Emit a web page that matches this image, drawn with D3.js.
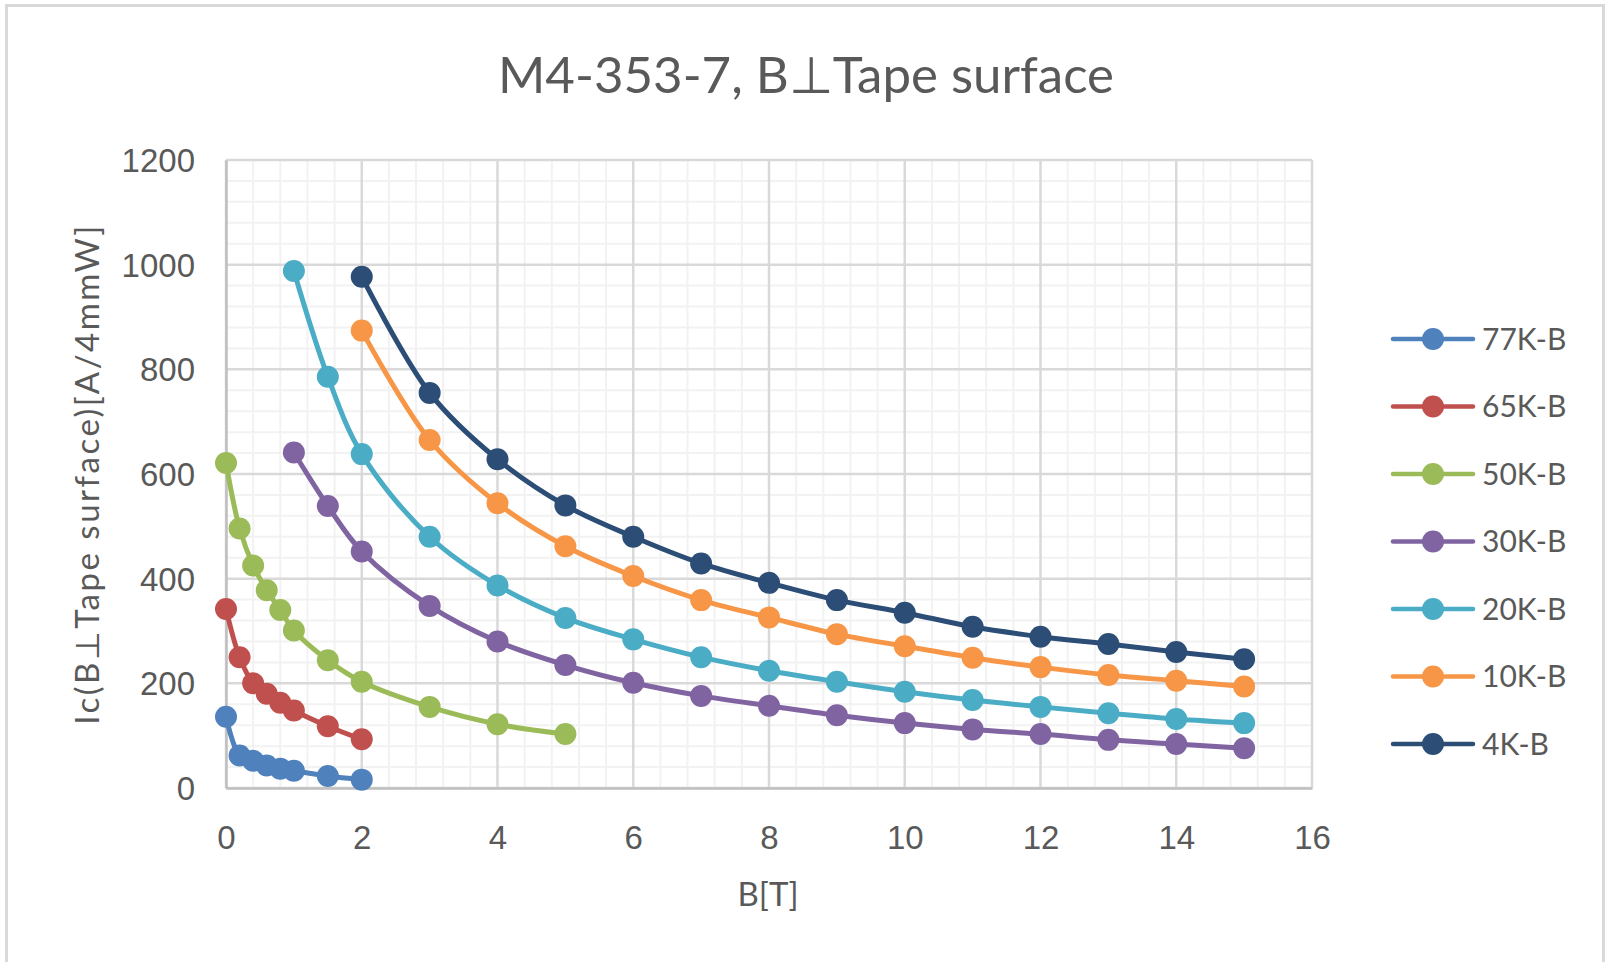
<!DOCTYPE html>
<html>
<head>
<meta charset="utf-8">
<script src="https://cdn.jsdelivr.net/npm/d3@7"></script>
<style>
  html, body { margin: 0; padding: 0; background: #fff; }
  svg { display: block; font-family: Lato, "Open Sans", sans-serif; }
  .grid-minor { stroke: #f2f2f2; stroke-width: 2; }
  .grid-major { stroke: #d9d9d9; stroke-width: 2.5; }
  .tick-label { fill: #595959; font-size: 33px; }
  .axis-title { fill: #595959; font-size: 33px; }
  .legend-label { fill: #595959; font-size: 30px; }
</style>
</head>
<body>
<div id="chart"></div>
<script>
const TITLE = "M4-353-7, B\u22A5Tape surface";
const X_TITLE = "B[T]";
const Y_TITLE = "Ic(B\u22A5Tape surface)[A/4mmW]";

const SERIES_NAMES = ["77K-B", "65K-B", "50K-B", "30K-B", "20K-B", "10K-B", "4K-B"];
const SERIES_COLORS = ["#4f81bd", "#c0504d", "#9bbb59", "#8064a2", "#4bacc6", "#f79646", "#2c4d75"];

// field values [T]
const B_LOW  = [0, 0.2, 0.4, 0.6, 0.8, 1, 1.5, 2];
const B_50K  = [0, 0.2, 0.4, 0.6, 0.8, 1, 1.5, 2, 3, 4, 5];
const B_MID  = [1, 1.5, 2, 3, 4, 5, 6, 7, 8, 9, 10, 11, 12, 13, 14, 15];
const B_HIGH = [2, 3, 4, 5, 6, 7, 8, 9, 10, 11, 12, 13, 14, 15];

// Ic values [A/4mmW]
const IC_77K = [136, 62, 52, 43, 37, 33, 23, 16];
const IC_65K = [342, 250, 200, 180, 163, 148, 118, 93];
const IC_50K = [621, 496, 425, 378, 340, 301, 244, 203, 155, 122, 103];
const IC_30K = [641, 539, 452, 348, 280, 235, 201, 176, 157, 139, 124, 112, 103, 92, 84, 76];
const IC_20K = [988, 786, 638, 480, 387, 325, 284, 250, 224, 203, 184, 168, 155, 143, 132, 124];
const IC_10K = [874, 665, 544, 462, 405, 359, 326, 294, 271, 249, 231, 216, 205, 194];
const IC_4K  = [977, 755, 628, 540, 480, 429, 392, 359, 335, 308, 289, 275, 260, 246];

const X_TICKS = [0, 2, 4, 6, 8, 10, 12, 14, 16];
const Y_TICKS = [0, 200, 400, 600, 800, 1000, 1200];

const W = 1606, H = 962;
const PLOT = { left: 226, right: 1312, top: 160, bottom: 788 };
const LEGEND = { x: 1393, lineLen: 80, top: 339, step: 67.5 };

const series = [
  { x: B_LOW, y: IC_77K },
  { x: B_LOW, y: IC_65K },
  { x: B_50K, y: IC_50K },
  { x: B_MID, y: IC_30K },
  { x: B_MID, y: IC_20K },
  { x: B_HIGH, y: IC_10K },
  { x: B_HIGH, y: IC_4K },
].map((s, i) => ({
  name: SERIES_NAMES[i],
  color: SERIES_COLORS[i],
  points: s.x.map((b, j) => ({ b, ic: s.y[j] })),
}));

const svg = d3.select("#chart").append("svg")
  .attr("width", W)
  .attr("height", H);

// chart border
svg.append("rect")
  .attr("x", 6.5).attr("y", 5.5)
  .attr("width", W - 9).attr("height", H + 10)
  .attr("fill", "#fff")
  .attr("stroke", "#d9d9d9")
  .attr("stroke-width", 3);

const x = d3.scaleLinear().domain([0, 16]).range([PLOT.left, PLOT.right]);
const y = d3.scaleLinear().domain([0, 1200]).range([PLOT.bottom, PLOT.top]);

// minor grid
const minorX = d3.range(0, 16.001, 0.4).filter(v => Math.abs(v / 2 - Math.round(v / 2)) > 1e-6);
const minorY = d3.range(0, 1200.1, 40).filter(v => v % 200 !== 0);

svg.append("g").selectAll("line")
  .data(minorX).join("line")
  .attr("class", "grid-minor")
  .attr("x1", d => x(d)).attr("x2", d => x(d))
  .attr("y1", PLOT.top).attr("y2", PLOT.bottom);

svg.append("g").selectAll("line")
  .data(minorY).join("line")
  .attr("class", "grid-minor")
  .attr("x1", PLOT.left).attr("x2", PLOT.right)
  .attr("y1", d => y(d)).attr("y2", d => y(d));

// major grid
svg.append("g").selectAll("line")
  .data(X_TICKS).join("line")
  .attr("class", "grid-major")
  .attr("x1", d => x(d)).attr("x2", d => x(d))
  .attr("y1", PLOT.top).attr("y2", PLOT.bottom);

svg.append("g").selectAll("line")
  .data(Y_TICKS).join("line")
  .attr("class", "grid-major")
  .attr("x1", PLOT.left).attr("x2", PLOT.right)
  .attr("y1", d => y(d)).attr("y2", d => y(d));

// axes (labels only, Excel style)
const xAxis = svg.append("g")
  .attr("transform", `translate(0, ${PLOT.bottom})`)
  .call(d3.axisBottom(x).tickValues(X_TICKS).tickSize(0).tickPadding(0).tickFormat(d3.format("d")));
xAxis.select(".domain").attr("stroke", "#bfbfbf").attr("stroke-width", 2.5);
xAxis.selectAll(".tick text")
  .attr("class", "tick-label")
  .attr("font-family", null).attr("font-size", null)
  .attr("y", 49).attr("dy", "0.35em");

const yAxis = svg.append("g")
  .attr("transform", `translate(${PLOT.left}, 0)`)
  .call(d3.axisLeft(y).tickValues(Y_TICKS).tickSize(0).tickPadding(0).tickFormat(d3.format("d")));
yAxis.select(".domain").attr("stroke", "#bfbfbf").attr("stroke-width", 2.5);
yAxis.selectAll(".tick text")
  .attr("class", "tick-label")
  .attr("font-family", null).attr("font-size", null)
  .attr("x", -31).attr("dy", "0.35em");

// lines + markers
const line = d3.line()
  .x(d => x(d.b))
  .y(d => y(d.ic))
  .curve(d3.curveCatmullRom.alpha(0.5));

const g = svg.append("g");
series.forEach(s => {
  g.append("path")
    .datum(s.points)
    .attr("fill", "none")
    .attr("stroke", s.color)
    .attr("stroke-width", 5)
    .attr("stroke-linejoin", "round")
    .attr("d", line);
  g.append("g").selectAll("circle")
    .data(s.points).join("circle")
    .attr("cx", d => x(d.b))
    .attr("cy", d => y(d.ic))
    .attr("r", 11)
    .attr("fill", s.color);
});

// title
svg.append("text")
  .attr("x", 806).attr("y", 93)
  .attr("text-anchor", "middle")
  .attr("fill", "#595959")
  .attr("font-size", 51)
  .text(TITLE);

// axis titles
svg.append("text")
  .attr("class", "axis-title")
  .attr("x", 768).attr("y", 906)
  .attr("text-anchor", "middle")
  .text(X_TITLE);

svg.append("text")
  .attr("class", "axis-title")
  .attr("transform", `translate(99, 474) rotate(-90)`)
  .attr("text-anchor", "middle")
  .attr("font-size", 35)
  .attr("letter-spacing", 2.5)
  .text(Y_TITLE);

// legend
const legend = svg.append("g").selectAll("g")
  .data(series).join("g")
  .attr("transform", (d, i) => `translate(${LEGEND.x}, ${LEGEND.top + i * LEGEND.step})`);

legend.append("line")
  .attr("x1", 0).attr("x2", LEGEND.lineLen)
  .attr("stroke", d => d.color)
  .attr("stroke-width", 4.5)
  .attr("stroke-linecap", "round");

legend.append("circle")
  .attr("cx", LEGEND.lineLen / 2)
  .attr("r", 11)
  .attr("fill", d => d.color);

legend.append("text")
  .attr("class", "legend-label")
  .attr("x", 89)
  .attr("dy", "0.36em")
  .text(d => d.name);
</script>
</body>
</html>
